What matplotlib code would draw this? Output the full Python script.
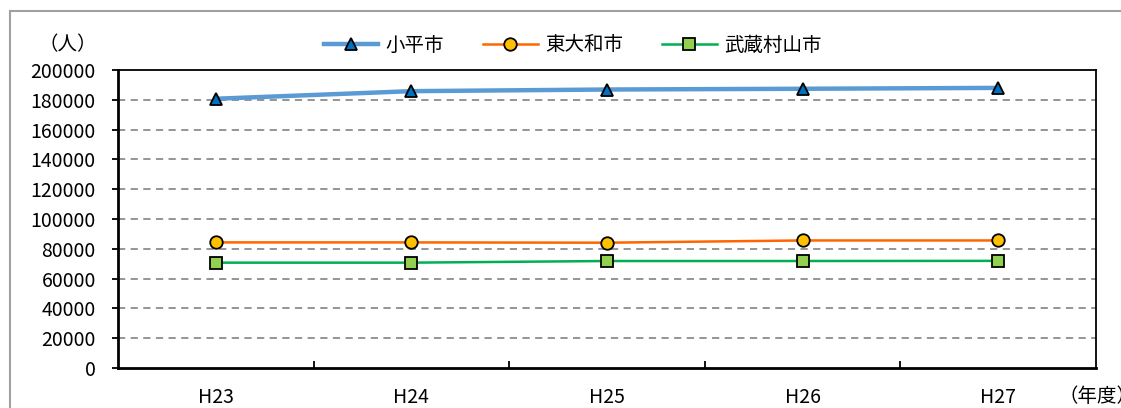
import matplotlib.pyplot as plt
from matplotlib.patches import Rectangle

plt.rcParams['font.family'] = ['Noto Sans CJK JP', 'DejaVu Sans']

years = ['H23', 'H24', 'H25', 'H26', 'H27']
kodaira = [180700, 185800, 186900, 187400, 188000]
higashiyamato = [84300, 84300, 84100, 85600, 85600]
musashimurayama = [70700, 70700, 71800, 71800, 71900]
names = ['小平市', '東大和市', '武蔵村山市']

fs = 14

fig = plt.figure(figsize=(11.21, 4.08), dpi=100)
# outer chart frame
fig.patches.append(Rectangle((10/1121, -0.1), 1.2, (408-11)/408 + 0.1,
                             transform=fig.transFigure, fill=False,
                             edgecolor='#a0a0a0', lw=1.5))
ax = fig.add_axes([118/1121, (408-368)/408, (1096-118)/1121, (368-70)/408])

x = range(len(years))
ax.plot(x, kodaira, color='#5b9bd5', lw=3.2, marker='^', ms=9,
        mfc='#0070c0', mec='black', mew=1.3, label=names[0], zorder=4)
ax.plot(x, higashiyamato, color='#ff6600', lw=1.8, marker='o', ms=9,
        mfc='#ffc000', mec='black', mew=1.3, label=names[1], zorder=4)
ax.plot(x, musashimurayama, color='#00b050', lw=1.8, marker='s', ms=8.5,
        mfc='#92d050', mec='black', mew=1.3, label=names[2], zorder=4)

ax.set_xlim(-0.5, 4.5)
ax.set_ylim(0, 200000)
ax.set_yticks(range(0, 200001, 20000))
ax.set_yticklabels([str(v) for v in range(0, 200001, 20000)], fontsize=fs)
for v in range(20000, 200000, 20000):
    ax.axhline(v, color='#8c8c8c', lw=1.3, ls=(0, (4, 3)), zorder=1)

ax.set_xticks([])
ax.set_xticks([i + 0.5 for i in range(4)], minor=True)
ax.tick_params(axis='x', which='minor', direction='in', length=5, width=1.3)
for i, lab in enumerate(years):
    ax.text(i, -0.1, lab, transform=ax.get_xaxis_transform(),
            ha='center', va='center', fontsize=fs)
ax.tick_params(axis='y', direction='out', length=4, width=1.3, pad=12)

for side in ['left', 'bottom']:
    ax.spines[side].set_linewidth(2)
for side in ['top', 'right']:
    ax.spines[side].set_linewidth(1.3)

fig.text(68/1121, 1 - 45/408, '（人）', ha='center', va='center', fontsize=fs)
fig.text(1058/1121, 1 - 397/408, '（年度）', ha='left', va='center', fontsize=fs)

ax.legend(loc='center', bbox_to_anchor=(0.465, 1 + 25/298), ncol=3,
          frameon=False, fontsize=fs, handlelength=2.8, columnspacing=2.0,
          handletextpad=0.4)

fig.savefig('out.png', dpi=100)
